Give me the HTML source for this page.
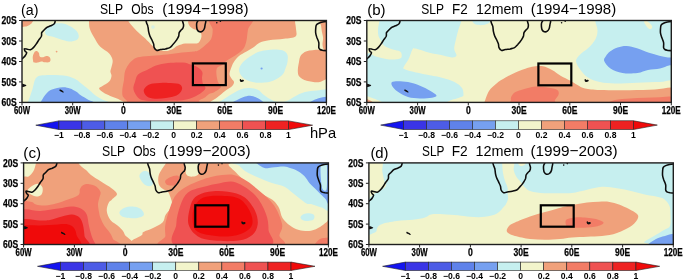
<!DOCTYPE html><html><head><meta charset="utf-8"><style>html,body{margin:0;padding:0;background:#fff;}svg{display:block;filter:blur(0.4px);}text{font-family:"Liberation Sans",sans-serif;}.b{stroke:#000;stroke-width:0.25px;}</style></head><body>
<svg width="685" height="280" viewBox="0 0 685 280">
<defs>
<clipPath id="cpa"><rect x="22.0" y="20.5" width="304.4" height="81.9"/></clipPath>
<clipPath id="cpb"><rect x="366.8" y="20.5" width="304.5" height="81.9"/></clipPath>
<clipPath id="cpc"><rect x="23.6" y="162.9" width="304.8" height="81.6"/></clipPath>
<clipPath id="cpd"><rect x="368.9" y="162.9" width="304.4" height="81.6"/></clipPath>
</defs>
<g clip-path="url(#cpa)">
<rect x="22.0" y="20.5" width="304.4" height="81.9" fill="#f2f4cb"/>
<path fill="#f0a17b" d="M18.0,18.0 C20.5,16.6 30.6,17.3 33.0,18.0 C35.4,18.7 33.1,20.8 32.5,22.0 C31.9,23.2 30.8,24.2 29.5,25.0 C28.2,25.8 26.9,26.4 25.0,26.6 C23.1,26.9 19.2,27.9 18.0,26.5 C16.8,25.1 15.5,19.4 18.0,18.0Z"/>
<path fill="#f0a17b" d="M33.2,61.4 C33.1,60.4 32.5,58.1 32.8,56.5 C33.1,54.9 34.1,52.5 34.9,51.6 C35.6,50.7 36.6,50.9 37.3,51.2 C38.0,51.5 38.6,52.3 39.0,53.2 C39.4,54.1 39.1,55.8 39.8,56.5 C40.5,57.2 42.0,57.4 43.1,57.3 C44.2,57.2 45.3,56.1 46.4,56.1 C47.5,56.1 49.0,56.6 49.7,57.3 C50.4,58.0 50.6,59.4 50.5,60.2 C50.4,61.0 49.8,61.9 48.8,62.3 C47.8,62.6 45.9,62.4 44.7,62.3 C43.5,62.1 42.8,61.3 41.4,61.4 C40.0,61.5 37.8,62.6 36.5,62.7 C35.2,62.9 34.1,62.5 33.6,62.3 C33.1,62.1 33.3,62.4 33.2,61.4Z"/>
<path fill="#f0a17b" d="M89.0,17.0 C107.5,16.3 165.7,17.0 200.0,17.0 C234.3,17.0 278.9,16.2 294.7,17.0 C310.5,17.8 294.8,19.5 295.0,21.5 C295.2,23.5 295.9,26.5 296.0,29.0 C296.1,31.5 297.5,34.9 295.5,36.5 C293.5,38.1 288.4,38.2 284.0,38.8 C279.6,39.4 273.0,39.7 269.0,40.3 C265.0,40.9 262.5,41.5 260.0,42.6 C257.5,43.7 256.2,45.5 254.0,47.0 C251.8,48.5 249.0,50.1 246.5,51.6 C244.0,53.1 241.0,54.4 239.0,56.0 C237.0,57.6 235.8,59.2 234.5,61.0 C233.2,62.8 232.3,64.8 231.5,67.0 C230.7,69.2 229.5,72.1 229.5,74.0 C229.5,75.9 230.8,77.2 231.5,78.5 C232.2,79.8 233.9,80.7 234.0,82.0 C234.1,83.3 233.3,84.8 232.0,86.2 C230.7,87.6 227.8,88.9 226.0,90.3 C224.2,91.7 222.6,93.0 220.9,94.4 C219.2,95.8 217.5,97.3 215.8,98.5 C214.1,99.7 212.5,100.5 210.7,101.6 C208.9,102.7 217.8,104.4 205.0,105.0 C192.2,105.6 147.5,105.5 134.0,105.0 C120.5,104.5 126.8,103.1 124.0,102.0 C121.2,100.9 119.3,99.6 117.0,98.6 C114.7,97.6 112.5,96.9 110.2,95.9 C107.9,94.9 105.2,93.7 103.4,92.5 C101.6,91.3 99.2,89.7 99.1,88.6 C98.9,87.5 100.8,87.3 102.5,86.1 C104.2,84.9 107.8,83.3 109.2,81.6 C110.8,79.9 111.3,77.7 111.5,76.0 C111.7,74.3 110.4,73.0 110.4,71.5 C110.4,70.0 111.1,68.9 111.5,67.0 C111.9,65.1 113.0,62.5 112.6,60.2 C112.2,58.0 111.3,55.8 109.2,53.5 C107.2,51.2 102.8,49.4 100.3,46.8 C97.8,44.1 96.0,40.7 94.3,37.7 C92.5,34.7 90.7,31.6 89.8,28.8 C88.9,26.0 89.1,23.0 89.0,21.0 C88.9,19.0 70.5,17.7 89.0,17.0Z"/>
<path fill="#f0a17b" d="M297.8,70.4 C297.8,68.0 298.5,64.5 299.0,62.0 C299.5,59.5 299.5,57.4 300.8,55.6 C302.1,53.8 303.7,52.2 306.7,51.2 C309.7,50.2 315.4,49.7 318.6,49.7 C321.8,49.7 324.1,50.8 326.0,51.2 C327.9,51.6 329.3,47.4 330.0,52.0 C330.7,56.6 330.7,74.5 330.0,79.0 C329.3,83.5 327.9,78.8 326.0,79.3 C324.1,79.8 321.8,82.0 318.6,82.3 C315.4,82.5 309.9,81.8 306.7,80.8 C303.5,79.8 300.8,78.1 299.3,76.4 C297.8,74.7 297.9,72.8 297.8,70.4Z"/>
<path fill="#f0a17b" d="M319.0,17.0 C320.7,16.2 328.2,11.2 330.0,17.0 C331.8,22.8 330.7,46.3 330.0,52.0 C329.3,57.7 326.8,51.4 325.8,51.0 C324.8,50.6 324.4,50.8 323.8,49.7 C323.2,48.6 322.6,46.4 322.5,44.4 C322.4,42.4 323.2,40.0 323.1,37.8 C323.0,35.6 322.1,33.2 321.8,31.2 C321.5,29.2 321.4,27.4 321.1,25.9 C320.8,24.4 320.2,23.5 319.8,22.0 C319.4,20.5 317.3,17.8 319.0,17.0Z"/>
<path fill="#f2f4cb" d="M128.2,17.0 C118.3,17.6 127.3,18.9 128.2,20.7 C129.1,22.4 131.6,25.4 133.5,27.5 C135.4,29.6 137.6,31.8 139.5,33.5 C141.4,35.2 143.3,36.8 144.7,38.0 C146.1,39.2 146.4,39.7 147.7,41.0 C149.0,42.3 150.9,44.4 152.5,45.8 C154.1,47.2 154.8,48.6 157.0,49.5 C159.2,50.4 163.4,51.0 165.8,51.0 C168.2,51.0 169.7,50.4 171.7,49.5 C173.7,48.6 175.4,46.8 177.6,45.8 C179.8,44.8 182.6,44.0 185.0,43.6 C187.4,43.2 190.1,43.7 192.3,43.6 C194.5,43.5 196.7,43.9 198.2,42.9 C199.7,41.9 200.7,39.4 201.2,37.7 C201.7,36.1 201.5,34.2 201.0,33.0 C200.5,31.8 199.2,30.8 198.0,30.2 C196.8,29.6 195.3,29.9 194.0,29.3 C192.7,28.7 191.0,27.7 190.0,26.5 C189.0,25.3 188.4,23.6 188.0,22.0 C187.6,20.4 197.5,17.8 187.5,17.0 C177.5,16.2 138.1,16.4 128.2,17.0Z"/>
<path fill="#f27c66" d="M211.0,17.0 C204.6,19.1 212.7,25.9 212.7,29.6 C212.7,33.3 212.3,36.6 211.0,39.3 C209.7,42.0 206.7,43.8 204.6,45.7 C202.5,47.6 200.0,49.5 198.2,50.5 C196.4,51.5 196.5,51.2 193.8,51.5 C191.1,51.8 186.4,52.0 182.0,52.5 C177.6,53.0 172.1,54.0 167.2,54.5 C162.3,55.0 157.0,55.4 152.5,55.8 C148.0,56.2 143.1,56.5 140.0,57.0 C136.9,57.5 135.9,57.8 134.0,59.1 C132.1,60.4 129.9,62.7 128.4,64.8 C126.9,66.8 125.8,68.9 125.0,71.5 C124.2,74.1 124.3,77.8 123.9,80.5 C123.5,83.2 122.8,85.6 122.5,88.0 C122.2,90.4 122.1,93.2 122.4,95.0 C122.7,96.8 123.7,97.5 124.5,98.6 C125.3,99.6 126.5,100.2 127.2,101.3 C128.0,102.4 117.2,104.4 129.0,105.0 C140.8,105.6 186.4,105.7 198.0,105.0 C209.6,104.3 197.8,102.0 198.8,100.8 C199.8,99.6 202.3,99.2 204.0,98.1 C205.7,97.0 207.4,95.0 209.0,94.0 C210.6,93.0 211.7,93.5 213.7,92.4 C215.7,91.3 220.2,89.0 220.9,87.3 C221.6,85.6 218.7,84.0 218.0,82.0 C217.3,80.0 216.7,77.3 216.5,75.0 C216.3,72.7 216.0,69.7 217.0,68.0 C218.0,66.3 220.6,66.3 222.3,65.0 C224.0,63.7 225.0,61.8 227.2,60.2 C229.3,58.6 232.5,57.3 235.2,55.4 C237.9,53.5 241.3,51.3 243.2,48.9 C245.1,46.5 245.6,44.1 246.4,40.9 C247.2,37.7 247.2,33.6 248.0,29.6 C248.8,25.6 257.5,19.1 251.3,17.0 C245.1,14.9 217.4,14.9 211.0,17.0Z"/>
<path fill="#ef5252" d="M133.5,89.5 C132.9,86.8 134.2,84.5 135.0,82.0 C135.8,79.5 136.0,76.5 138.0,74.5 C140.0,72.5 144.0,71.5 147.0,70.0 C150.0,68.5 152.5,66.7 156.0,65.5 C159.5,64.3 163.5,63.5 168.0,63.0 C172.5,62.5 179.2,62.2 183.0,62.5 C186.8,62.8 188.1,63.7 190.6,64.5 C193.1,65.3 196.1,66.2 198.0,67.5 C199.9,68.8 201.6,70.2 202.3,72.0 C203.0,73.8 201.9,76.0 202.0,78.0 C202.1,80.0 202.4,82.3 203.0,84.0 C203.6,85.7 205.9,86.7 205.5,88.3 C205.1,89.9 203.0,91.7 200.4,93.4 C197.8,95.1 193.6,97.3 190.2,98.5 C186.8,99.7 182.9,100.2 180.0,100.5 C177.1,100.8 175.9,100.5 172.6,100.6 C169.3,100.7 164.4,101.0 160.0,101.0 C155.6,101.0 149.9,101.3 146.3,100.8 C142.7,100.3 140.5,100.0 138.4,98.1 C136.3,96.2 134.1,92.2 133.5,89.5Z"/>
<path fill="#ee2222" d="M143.7,90.5 C143.8,88.7 145.9,86.7 147.5,85.5 C149.1,84.3 150.9,83.9 153.0,83.5 C155.1,83.1 157.5,83.1 160.0,83.0 C162.5,82.9 164.9,82.8 168.0,82.9 C171.1,83.0 176.2,83.1 178.5,83.8 C180.8,84.5 181.6,86.0 182.0,87.3 C182.4,88.6 181.9,90.1 181.0,91.5 C180.1,92.9 179.0,94.4 176.5,95.5 C174.0,96.6 169.6,97.5 166.0,98.0 C162.4,98.5 158.2,99.0 155.0,98.7 C151.8,98.5 148.9,97.9 147.0,96.5 C145.1,95.1 143.6,92.3 143.7,90.5Z"/>
<path fill="#c6efef" d="M45.0,32.5 C44.9,31.4 45.7,29.7 46.5,28.5 C47.3,27.3 48.7,26.3 50.0,25.5 C51.3,24.7 52.2,23.8 54.4,23.5 C56.6,23.2 60.6,23.0 63.3,23.5 C66.0,24.0 68.5,25.3 70.7,26.6 C72.9,27.9 75.2,29.5 76.6,31.1 C77.9,32.7 78.8,34.7 78.8,36.2 C78.8,37.7 78.2,39.0 76.6,39.9 C75.0,40.8 71.9,41.5 69.2,41.4 C66.5,41.3 63.2,40.0 60.3,39.2 C57.4,38.4 54.2,37.2 52.0,36.5 C49.8,35.8 48.2,35.9 47.0,35.2 C45.8,34.5 45.1,33.6 45.0,32.5Z"/>
<path fill="#c6efef" d="M26.0,105.0 C12.3,104.4 27.2,103.2 28.0,101.5 C28.8,99.8 29.8,97.1 30.5,95.0 C31.2,92.9 31.8,91.3 32.5,89.0 C33.2,86.7 33.8,83.0 34.5,81.0 C35.2,79.0 35.9,77.9 37.0,77.0 C38.1,76.1 38.5,75.8 41.0,75.5 C43.5,75.2 47.7,74.9 52.0,75.0 C56.3,75.1 63.0,75.2 67.0,76.0 C71.0,76.8 73.8,78.4 76.0,79.5 C78.2,80.6 78.6,81.5 80.0,82.6 C81.4,83.7 83.0,85.0 84.6,86.3 C86.1,87.5 87.8,88.8 89.3,90.1 C90.8,91.4 92.4,93.0 93.9,94.2 C95.5,95.4 96.9,96.5 98.6,97.5 C100.3,98.5 102.5,99.6 104.1,100.3 C105.7,101.0 107.0,101.0 108.0,101.8 C109.0,102.6 123.7,104.5 110.0,105.0 C96.3,105.5 39.7,105.6 26.0,105.0Z"/>
<path fill="#c6efef" d="M239.0,70.0 C238.9,67.9 240.3,65.8 241.5,64.0 C242.7,62.2 244.4,60.8 246.0,59.5 C247.6,58.2 249.0,57.2 251.0,56.0 C253.0,54.8 255.5,53.0 258.0,52.0 C260.5,51.0 262.9,50.6 266.0,50.2 C269.1,49.8 273.6,49.5 276.6,49.6 C279.6,49.7 282.2,50.1 284.0,51.0 C285.8,51.9 286.9,53.2 287.5,55.0 C288.1,56.8 287.8,59.8 287.5,62.0 C287.2,64.2 286.4,65.9 285.6,68.0 C284.8,70.1 284.6,72.4 282.6,74.5 C280.6,76.6 277.1,79.1 273.6,80.5 C270.1,81.9 265.6,82.7 261.6,82.8 C257.6,82.9 252.9,82.3 249.6,81.3 C246.3,80.2 243.8,78.4 242.0,76.5 C240.2,74.6 239.1,72.1 239.0,70.0Z"/>
<path fill="#c6efef" d="M215.0,105.0 C196.2,104.6 216.1,103.3 217.0,102.7 C217.9,102.1 218.8,102.1 220.4,101.2 C222.0,100.3 224.4,98.7 226.4,97.5 C228.4,96.3 230.5,94.9 232.4,93.8 C234.3,92.7 235.7,91.7 237.6,90.8 C239.5,89.9 241.5,89.1 243.6,88.6 C245.7,88.1 247.6,87.8 250.0,88.0 C252.4,88.2 255.6,88.6 257.9,89.8 C260.2,91.0 261.9,93.5 263.9,95.0 C265.9,96.5 268.2,98.0 270.0,99.0 C271.8,100.0 272.9,100.7 274.6,101.2 C276.3,101.7 278.0,101.8 280.0,101.8 C282.0,101.8 284.3,101.8 286.7,101.0 C289.1,100.2 291.3,98.2 294.3,96.7 C297.3,95.2 301.1,93.1 304.9,92.1 C308.7,91.1 312.8,90.9 317.0,90.6 C321.2,90.3 327.8,88.0 330.0,90.4 C332.2,92.8 349.2,102.6 330.0,105.0 C310.8,107.4 233.8,105.4 215.0,105.0Z"/>
<path fill="#76a0f0" d="M38.0,105.0 C28.8,104.7 38.7,104.8 40.0,103.0 C41.3,101.2 44.0,96.2 46.0,94.0 C48.0,91.8 49.2,90.6 52.0,89.5 C54.8,88.4 59.5,87.5 62.5,87.3 C65.5,87.1 67.8,87.8 70.0,88.5 C72.2,89.2 74.3,90.5 76.0,91.5 C77.7,92.5 78.6,93.7 80.0,94.7 C81.4,95.7 83.0,96.6 84.6,97.5 C86.1,98.4 87.9,99.6 89.3,100.3 C90.7,101.0 92.0,100.9 93.0,101.7 C94.0,102.5 104.2,104.5 95.0,105.0 C85.8,105.5 47.2,105.3 38.0,105.0Z"/>
<path fill="#76a0f0" d="M230.0,105.0 C224.7,104.5 231.1,103.2 232.4,102.3 C233.7,101.4 235.7,100.6 237.6,99.7 C239.5,98.8 241.5,97.8 243.6,97.1 C245.7,96.4 247.9,95.7 250.0,95.8 C252.1,95.9 254.2,96.6 256.3,97.5 C258.4,98.4 261.1,100.0 262.4,101.2 C263.7,102.5 269.4,104.4 264.0,105.0 C258.6,105.6 235.3,105.5 230.0,105.0Z"/>
<path fill="#76a0f0" d="M309.0,105.0 C305.8,104.4 309.4,102.6 311.0,101.5 C312.6,100.4 316.1,99.0 318.6,98.2 C321.1,97.4 324.3,97.0 326.2,96.7 C328.1,96.4 329.4,95.1 330.0,96.5 C330.6,97.9 333.5,103.6 330.0,105.0 C326.5,106.4 312.2,105.6 309.0,105.0Z"/>
<circle cx="56.6" cy="51.6" r="0.9" fill="#f0a17b"/>
<circle cx="261.6" cy="68.5" r="1.1" fill="#76a0f0"/>
<circle cx="153" cy="27.1" r="1.8" fill="#d6f0e4"/>
<g fill="none" stroke="#0d0d0d" stroke-width="1.55" stroke-linejoin="round" stroke-linecap="round">
<path d="M55.5,19.5 C55.3,20.2 55.2,22.6 54.4,23.6 C53.6,24.7 52.0,25.2 50.7,25.8 C49.5,26.4 48.0,26.6 46.9,27.3 C45.8,28.1 44.8,29.4 43.9,30.3 C43.0,31.2 42.1,31.6 41.7,32.6 C41.3,33.6 41.9,35.0 41.4,36.3 C40.9,37.5 39.5,38.9 38.7,40.1 C37.9,41.4 37.3,42.5 36.4,43.8 C35.5,45.0 34.4,46.6 33.4,47.6 C32.4,48.6 31.5,49.5 30.4,49.8 C29.3,50.0 27.7,49.3 26.7,49.1 C25.7,48.9 24.6,48.4 24.4,48.8 C24.1,49.2 24.8,50.6 25.2,51.3 C25.6,52.0 26.7,52.0 26.7,52.8 C26.7,53.5 25.8,54.9 25.2,55.8 C24.6,56.7 23.7,57.4 22.9,58.1 C22.1,58.8 20.9,59.7 20.5,60.0"/>
<path d="M145.7,19.5 C145.9,20.1 146.3,22.1 146.7,23.2 C147.1,24.3 147.6,25.0 147.9,26.4 C148.3,27.7 148.3,29.8 148.6,31.4 C148.9,32.9 149.3,34.3 149.8,35.7 C150.3,37.1 151.1,38.1 151.7,39.5 C152.3,40.9 153.2,42.5 153.6,43.9 C154.0,45.2 153.7,46.5 154.2,47.6 C154.7,48.7 155.7,50.0 156.7,50.4 C157.7,50.7 159.0,49.8 160.4,49.5 C161.9,49.2 163.9,49.2 165.4,48.9 C167.0,48.5 168.6,48.3 169.8,47.6 C171.1,46.9 171.9,45.6 172.9,44.5 C174.0,43.4 175.2,42.1 176.1,40.7 C177.0,39.3 178.1,37.7 178.6,36.4 C179.1,35.0 178.8,33.6 179.2,32.6 C179.6,31.6 180.5,30.8 181.1,30.1 C181.7,29.4 182.5,29.0 182.9,28.2 C183.4,27.4 183.6,26.0 183.6,25.1 C183.6,24.2 183.2,23.5 182.9,22.6 C182.7,21.7 182.4,20.0 182.3,19.5"/>
<path d="M197.8,19.5 C197.8,19.7 198.0,20.2 197.8,20.9 C197.6,21.5 196.9,22.4 196.7,23.4 C196.5,24.4 196.6,26.0 196.7,27.1 C196.8,28.2 196.9,29.2 197.4,30.0 C197.9,30.8 198.8,31.6 199.6,31.8 C200.4,32.0 201.7,31.7 202.5,31.1 C203.3,30.6 204.0,29.5 204.4,28.5 C204.8,27.5 204.9,26.0 205.1,24.9 C205.3,23.8 205.7,22.5 205.8,21.6 C205.9,20.7 205.6,19.9 205.5,19.5"/>
<path d="M328.0,21.4 C327.1,21.5 324.1,21.7 322.6,22.0 C321.1,22.3 319.9,22.7 318.8,23.2 C317.8,23.7 316.8,24.2 316.3,25.1 C315.8,26.0 315.8,27.5 315.7,28.9 C315.6,30.2 315.5,31.7 315.7,33.2 C315.9,34.7 316.4,36.0 316.9,37.6 C317.5,39.2 318.5,40.9 318.8,42.6 C319.1,44.3 318.6,46.5 318.8,47.6 C319.0,48.8 319.4,49.0 320.1,49.5 C320.8,50.0 321.9,50.1 323.2,50.4 C324.5,50.6 327.2,50.6 328.0,50.7"/>
</g>
<g fill="#111">
<circle cx="216.8" cy="22.7" r="0.8"/>
<circle cx="220.4" cy="21.2" r="0.8"/>
<path d="M239.7,79.7 C239.7,79.2 240.3,78.9 240.6,78.9 C240.9,78.9 241.1,79.8 241.5,79.9 C241.9,80.0 242.8,79.6 243.2,79.7 C243.6,79.8 244.1,80.4 244.0,80.7 C243.9,81.0 243.4,81.6 242.8,81.8 C242.2,82.0 241.0,82.0 240.5,81.7 C240.0,81.4 239.7,80.2 239.7,79.7Z"/>
<path d="M59.5,89.8 C59.6,89.6 60.0,89.3 60.5,89.5 C61.0,89.7 62.0,90.3 62.5,90.7 C63.0,91.1 63.7,91.7 63.8,92.0 C63.9,92.3 63.4,92.6 63.0,92.6 C62.6,92.5 61.9,92.0 61.3,91.7 C60.7,91.4 59.9,91.1 59.6,90.8 C59.3,90.5 59.4,90.0 59.5,89.8Z"/>
<path d="M21.0,83.7 C21.4,83.2 22.7,83.7 23.5,83.9 C24.3,84.1 25.4,84.5 25.8,84.8 C26.2,85.1 26.5,85.4 26.2,85.7 C25.9,86.0 24.9,86.5 24.0,86.7 C23.1,86.9 21.5,87.5 21.0,87.0 C20.5,86.5 20.6,84.2 21.0,83.7Z"/>
</g>
<rect x="192.9" y="63.4" width="32.9" height="21.7" fill="none" stroke="#000" stroke-width="2.2"/>
</g>
<rect x="22.0" y="20.5" width="304.4" height="81.9" fill="none" stroke="#1e1e1e" stroke-width="1.4"/>
<path d="M19.0,20.5H22.0M19.0,41.0H22.0M19.0,61.5H22.0M19.0,81.9H22.0M19.0,102.4H22.0M22.0,102.4V105.4M72.7,102.4V105.4M123.5,102.4V105.4M174.2,102.4V105.4M224.9,102.4V105.4M275.6,102.4V105.4M326.4,102.4V105.4" stroke="#222" stroke-width="1" fill="none"/>
<text x="1.4" y="24.1" class="b" font-size="10" font-weight="bold" textLength="15.2" lengthAdjust="spacingAndGlyphs">20S</text>
<text x="1.4" y="44.6" class="b" font-size="10" font-weight="bold" textLength="15.2" lengthAdjust="spacingAndGlyphs">30S</text>
<text x="1.4" y="65.0" class="b" font-size="10" font-weight="bold" textLength="15.2" lengthAdjust="spacingAndGlyphs">40S</text>
<text x="1.4" y="85.5" class="b" font-size="10" font-weight="bold" textLength="15.2" lengthAdjust="spacingAndGlyphs">50S</text>
<text x="1.4" y="106.0" class="b" font-size="10" font-weight="bold" textLength="15.2" lengthAdjust="spacingAndGlyphs">60S</text>
<text x="14.0" y="113.8" class="b" font-size="10.4" font-weight="bold" textLength="16" lengthAdjust="spacingAndGlyphs">60W</text>
<text x="64.7" y="113.8" class="b" font-size="10.4" font-weight="bold" textLength="16" lengthAdjust="spacingAndGlyphs">30W</text>
<text x="121.0" y="113.8" class="b" font-size="10.4" font-weight="bold" textLength="4.8" lengthAdjust="spacingAndGlyphs">0</text>
<text x="166.5" y="113.8" class="b" font-size="10.4" font-weight="bold" textLength="15.3" lengthAdjust="spacingAndGlyphs">30E</text>
<text x="217.3" y="113.8" class="b" font-size="10.4" font-weight="bold" textLength="15.2" lengthAdjust="spacingAndGlyphs">60E</text>
<text x="268.0" y="113.8" class="b" font-size="10.4" font-weight="bold" textLength="15.2" lengthAdjust="spacingAndGlyphs">90E</text>
<text x="316.9" y="113.8" class="b" font-size="10.4" font-weight="bold" textLength="19" lengthAdjust="spacingAndGlyphs">120E</text>
<g clip-path="url(#cpb)">
<rect x="366.8" y="20.5" width="304.5" height="81.9" fill="#c6efef"/>
<path fill="#f2f4cb" d="M364.0,18.0 C366.6,12.3 376.8,17.4 379.4,18.0 C382.0,18.6 379.6,19.7 379.4,21.5 C379.2,23.3 378.1,26.6 378.0,29.0 C377.9,31.4 378.0,34.1 378.5,36.0 C379.0,37.9 380.1,38.9 381.0,40.5 C381.9,42.1 381.9,44.0 383.9,45.5 C385.9,47.0 390.1,48.6 392.8,49.6 C395.5,50.6 398.5,50.5 400.0,51.4 C401.5,52.3 401.7,53.8 401.7,55.0 C401.7,56.2 402.1,57.9 400.0,58.6 C397.9,59.4 393.1,59.8 389.2,59.5 C385.3,59.2 380.0,57.8 376.7,56.8 C373.4,55.8 371.7,54.0 369.6,53.2 C367.5,52.4 364.9,57.9 364.0,52.0 C363.1,46.1 361.4,23.7 364.0,18.0Z"/>
<path fill="#f2f4cb" d="M403.5,67.5 C404.1,65.7 407.4,61.6 408.9,58.6 C410.4,55.6 411.3,51.3 412.4,49.6 C413.5,47.9 412.5,48.0 415.3,48.5 C418.1,49.0 425.1,51.6 429.4,52.7 C433.7,53.8 437.5,54.2 441.2,55.0 C444.9,55.8 449.2,57.3 451.8,57.4 C454.4,57.5 456.1,57.0 456.5,55.6 C456.9,54.2 454.3,51.6 454.2,49.0 C454.1,46.4 455.1,43.2 455.8,40.0 C456.5,36.8 457.4,33.1 458.3,30.0 C459.2,26.9 460.7,23.7 461.3,21.5 C461.9,19.3 439.7,17.8 462.0,17.0 C484.3,16.2 573.1,16.2 595.3,17.0 C617.5,17.8 594.9,19.3 595.3,21.5 C595.7,23.7 597.5,27.4 597.5,30.4 C597.5,33.4 596.9,36.4 595.3,39.4 C593.7,42.4 590.4,45.8 587.9,48.3 C585.4,50.8 582.4,52.1 580.4,54.2 C578.4,56.3 576.0,58.4 576.0,61.0 C576.0,63.6 578.5,67.2 580.5,70.0 C582.5,72.8 584.8,75.5 588.0,77.5 C591.2,79.5 595.5,81.0 600.0,82.0 C604.5,83.0 608.8,83.4 615.0,83.5 C621.2,83.6 630.0,83.0 637.5,82.7 C645.0,82.5 653.8,82.1 660.0,82.0 C666.2,81.9 672.5,78.2 675.0,82.0 C677.5,85.8 710.4,101.2 675.0,105.0 C639.6,108.8 497.8,106.6 462.5,105.0 C427.2,103.4 463.6,98.3 463.5,95.5 C463.4,92.7 463.5,90.2 462.0,88.0 C460.5,85.8 458.0,83.8 454.5,82.0 C451.0,80.2 445.8,78.8 441.0,77.5 C436.2,76.2 431.0,75.5 426.0,74.5 C421.0,73.5 414.4,72.0 411.0,71.2 C407.6,70.4 406.8,70.1 405.5,69.5 C404.2,68.9 402.9,69.3 403.5,67.5Z"/>
<path fill="#f2f4cb" d="M364.0,94.0 C364.3,92.4 364.4,94.8 366.0,95.5 C367.6,96.2 371.2,97.6 373.5,98.5 C375.8,99.4 377.9,99.9 380.0,101.0 C382.1,102.1 388.7,104.3 386.0,105.0 C383.3,105.7 367.7,106.8 364.0,105.0 C360.3,103.2 363.7,95.6 364.0,94.0Z"/>
<path fill="#c6efef" d="M472.0,17.0 C475.1,16.2 488.1,16.1 491.0,17.0 C493.9,17.9 490.8,21.2 489.5,22.5 C488.2,23.8 485.2,24.7 483.0,25.0 C480.8,25.3 477.8,25.1 476.0,24.5 C474.2,23.9 473.2,22.8 472.5,21.5 C471.8,20.2 468.9,17.8 472.0,17.0Z"/>
<path fill="#f0a17b" d="M364.0,98.0 C364.7,97.1 366.7,98.9 368.0,99.5 C369.3,100.1 371.0,100.6 372.0,101.5 C373.0,102.4 375.3,104.4 374.0,105.0 C372.7,105.6 365.7,106.2 364.0,105.0 C362.3,103.8 363.3,98.9 364.0,98.0Z"/>
<path fill="#f0a17b" d="M483.0,105.0 C451.2,104.5 483.5,104.3 484.5,102.0 C485.5,99.7 487.0,94.1 489.0,91.0 C491.0,87.9 493.8,85.8 496.5,83.5 C499.2,81.2 502.2,79.4 505.5,77.5 C508.8,75.6 512.2,73.8 516.0,72.2 C519.8,70.6 524.8,68.7 528.0,67.7 C531.2,66.7 533.0,66.5 535.5,66.2 C538.0,66.0 540.2,65.6 543.0,66.2 C545.8,66.8 549.0,68.4 552.0,70.0 C555.0,71.6 558.0,74.2 561.0,76.0 C564.0,77.8 567.2,79.0 570.0,80.5 C572.8,82.0 575.0,83.7 577.5,85.0 C580.0,86.3 581.2,87.7 585.0,88.5 C588.8,89.3 592.5,89.7 600.0,90.0 C607.5,90.3 620.8,90.3 630.0,90.2 C639.2,90.1 647.5,89.8 655.0,89.5 C662.5,89.2 671.7,85.9 675.0,88.5 C678.3,91.1 707.0,102.2 675.0,105.0 C643.0,107.8 514.8,105.5 483.0,105.0Z"/>
<path fill="#f27c66" d="M511.5,96.2 C512.3,94.8 513.2,93.1 516.0,91.7 C518.8,90.3 524.8,88.9 528.0,88.0 C531.2,87.1 532.5,86.6 535.5,86.5 C538.5,86.4 542.5,86.7 546.0,87.2 C549.5,87.7 554.4,88.4 556.5,89.5 C558.6,90.6 559.0,92.2 558.7,94.0 C558.5,95.8 556.1,98.2 555.0,100.0 C553.9,101.8 559.0,104.2 552.0,105.0 C545.0,105.8 519.8,105.8 513.0,105.0 C506.2,104.2 511.2,101.5 511.0,100.0 C510.8,98.5 510.7,97.6 511.5,96.2Z"/>
<path fill="#f27c66" d="M605.0,105.0 C593.8,104.7 605.8,103.8 607.5,103.0 C609.2,102.2 611.2,100.8 615.0,100.0 C618.8,99.2 625.0,98.9 630.0,98.5 C635.0,98.1 640.0,97.9 645.0,97.7 C650.0,97.5 655.0,97.3 660.0,97.2 C665.0,97.1 672.5,95.7 675.0,97.0 C677.5,98.3 686.7,103.7 675.0,105.0 C663.3,106.3 616.2,105.3 605.0,105.0Z"/>
<path fill="#76a0f0" d="M391.5,82.7 C392.0,81.7 393.2,81.3 396.0,81.2 C398.8,81.1 404.0,81.2 408.0,82.0 C412.0,82.8 416.2,84.2 420.0,85.7 C423.8,87.2 427.8,89.4 430.5,91.0 C433.2,92.6 436.2,94.4 436.5,95.5 C436.8,96.6 434.8,97.2 432.0,97.7 C429.2,98.2 424.0,98.6 420.0,98.5 C416.0,98.4 411.5,98.0 408.0,97.0 C404.5,96.0 401.5,94.1 399.0,92.5 C396.5,90.9 394.2,88.8 393.0,87.2 C391.8,85.6 391.0,83.7 391.5,82.7Z"/>
<path fill="#76a0f0" d="M604.2,61.0 C603.5,58.9 605.0,57.6 606.0,56.0 C607.0,54.4 608.1,52.9 610.0,51.5 C611.9,50.1 614.8,48.4 617.6,47.5 C620.4,46.6 623.4,45.9 626.6,46.0 C629.8,46.1 633.3,47.2 637.0,48.3 C640.7,49.4 645.3,51.6 649.0,52.8 C652.7,54.0 656.1,54.9 659.3,55.7 C662.5,56.5 665.4,57.1 668.0,57.5 C670.6,57.9 673.8,56.8 675.0,58.0 C676.2,59.2 676.0,63.8 675.0,65.0 C674.0,66.2 671.5,64.9 669.0,65.5 C666.5,66.1 663.5,67.8 660.0,68.5 C656.5,69.2 651.8,69.2 648.0,70.0 C644.2,70.8 641.8,72.5 637.5,73.0 C633.2,73.5 627.0,73.8 622.5,73.0 C618.0,72.2 613.5,70.5 610.5,68.5 C607.5,66.5 605.0,63.1 604.2,61.0Z"/>
<path fill="#f2f4cb" d="M644.0,22.0 C643.8,20.8 645.7,20.3 647.0,21.0 C648.3,21.7 651.3,24.7 652.0,26.0 C652.7,27.3 651.7,28.7 651.0,29.0 C650.3,29.3 649.2,29.2 648.0,28.0 C646.8,26.8 644.2,23.2 644.0,22.0Z"/>
<g fill="none" stroke="#0d0d0d" stroke-width="1.55" stroke-linejoin="round" stroke-linecap="round">
<path d="M400.3,19.5 C400.1,20.2 400.0,22.6 399.2,23.6 C398.4,24.7 396.8,25.2 395.5,25.8 C394.2,26.4 392.8,26.6 391.7,27.3 C390.6,28.1 389.6,29.4 388.7,30.3 C387.8,31.2 386.9,31.6 386.5,32.6 C386.1,33.6 386.7,35.0 386.2,36.3 C385.7,37.5 384.3,38.9 383.5,40.1 C382.7,41.4 382.1,42.5 381.2,43.8 C380.3,45.0 379.2,46.6 378.2,47.6 C377.2,48.6 376.3,49.5 375.2,49.8 C374.1,50.0 372.5,49.3 371.5,49.1 C370.5,48.9 369.4,48.4 369.2,48.8 C368.9,49.2 369.6,50.6 370.0,51.3 C370.4,52.0 371.5,52.0 371.5,52.8 C371.5,53.5 370.6,54.9 370.0,55.8 C369.4,56.7 368.5,57.4 367.7,58.1 C366.9,58.8 365.7,59.7 365.3,60.0"/>
<path d="M490.5,19.5 C490.7,20.1 491.1,22.1 491.5,23.2 C491.9,24.3 492.4,25.0 492.8,26.4 C493.1,27.7 493.1,29.8 493.4,31.4 C493.7,32.9 494.1,34.3 494.6,35.7 C495.1,37.1 495.9,38.1 496.5,39.5 C497.1,40.9 498.0,42.5 498.4,43.9 C498.8,45.2 498.5,46.5 499.0,47.6 C499.5,48.7 500.5,50.0 501.5,50.4 C502.5,50.7 503.8,49.8 505.2,49.5 C506.7,49.2 508.7,49.2 510.2,48.9 C511.8,48.5 513.4,48.3 514.6,47.6 C515.9,46.9 516.7,45.6 517.8,44.5 C518.8,43.4 520.0,42.1 520.9,40.7 C521.8,39.3 522.9,37.7 523.4,36.4 C523.9,35.0 523.6,33.6 524.0,32.6 C524.4,31.6 525.3,30.8 525.9,30.1 C526.5,29.4 527.3,29.0 527.8,28.2 C528.2,27.4 528.4,26.0 528.4,25.1 C528.4,24.2 528.0,23.5 527.8,22.6 C527.5,21.7 527.2,20.0 527.1,19.5"/>
<path d="M542.6,19.5 C542.6,19.7 542.8,20.2 542.6,20.9 C542.4,21.5 541.7,22.4 541.5,23.4 C541.3,24.4 541.4,26.0 541.5,27.1 C541.6,28.2 541.7,29.2 542.2,30.0 C542.7,30.8 543.5,31.6 544.4,31.8 C545.2,32.0 546.5,31.7 547.3,31.1 C548.1,30.6 548.8,29.5 549.2,28.5 C549.6,27.5 549.7,26.0 549.9,24.9 C550.1,23.8 550.5,22.5 550.6,21.6 C550.7,20.7 550.3,19.9 550.3,19.5"/>
<path d="M672.8,21.4 C671.9,21.5 668.9,21.7 667.4,22.0 C665.9,22.3 664.7,22.7 663.6,23.2 C662.5,23.7 661.6,24.2 661.1,25.1 C660.6,26.0 660.6,27.5 660.5,28.9 C660.4,30.2 660.3,31.7 660.5,33.2 C660.7,34.7 661.2,36.0 661.8,37.6 C662.3,39.2 663.3,40.9 663.6,42.6 C663.9,44.3 663.4,46.5 663.6,47.6 C663.8,48.8 664.2,49.0 664.9,49.5 C665.6,50.0 666.7,50.1 668.0,50.4 C669.3,50.6 672.0,50.6 672.8,50.7"/>
</g>
<g fill="#111">
<circle cx="561.6" cy="22.7" r="0.8"/>
<circle cx="565.2" cy="21.2" r="0.8"/>
<path d="M584.5,79.7 C584.5,79.2 585.1,78.9 585.4,78.9 C585.7,78.9 585.9,79.8 586.3,79.9 C586.7,80.0 587.6,79.6 588.0,79.7 C588.4,79.8 588.9,80.4 588.8,80.7 C588.7,81.0 588.2,81.6 587.6,81.8 C587.0,82.0 585.8,82.0 585.3,81.7 C584.8,81.4 584.5,80.2 584.5,79.7Z"/>
<path d="M404.3,89.8 C404.4,89.6 404.8,89.3 405.3,89.5 C405.8,89.7 406.8,90.3 407.3,90.7 C407.9,91.1 408.5,91.7 408.6,92.0 C408.7,92.3 408.2,92.6 407.8,92.6 C407.4,92.5 406.7,92.0 406.1,91.7 C405.5,91.4 404.7,91.1 404.4,90.8 C404.1,90.5 404.2,90.0 404.3,89.8Z"/>
<path d="M365.8,83.7 C366.2,83.2 367.5,83.7 368.3,83.9 C369.1,84.1 370.2,84.5 370.6,84.8 C371.1,85.1 371.3,85.4 371.0,85.7 C370.7,86.0 369.7,86.5 368.8,86.7 C367.9,86.9 366.3,87.5 365.8,87.0 C365.3,86.5 365.4,84.2 365.8,83.7Z"/>
</g>
<rect x="538.4" y="63.5" width="32.9" height="21.8" fill="none" stroke="#000" stroke-width="2.2"/>
</g>
<rect x="366.8" y="20.5" width="304.5" height="81.9" fill="none" stroke="#1e1e1e" stroke-width="1.4"/>
<path d="M363.8,20.5H366.8M363.8,41.0H366.8M363.8,61.5H366.8M363.8,81.9H366.8M363.8,102.4H366.8M366.8,102.4V105.4M417.6,102.4V105.4M468.3,102.4V105.4M519.0,102.4V105.4M569.8,102.4V105.4M620.5,102.4V105.4M671.3,102.4V105.4" stroke="#222" stroke-width="1" fill="none"/>
<text x="346.2" y="24.1" class="b" font-size="10" font-weight="bold" textLength="15.2" lengthAdjust="spacingAndGlyphs">20S</text>
<text x="346.2" y="44.6" class="b" font-size="10" font-weight="bold" textLength="15.2" lengthAdjust="spacingAndGlyphs">30S</text>
<text x="346.2" y="65.0" class="b" font-size="10" font-weight="bold" textLength="15.2" lengthAdjust="spacingAndGlyphs">40S</text>
<text x="346.2" y="85.5" class="b" font-size="10" font-weight="bold" textLength="15.2" lengthAdjust="spacingAndGlyphs">50S</text>
<text x="346.2" y="106.0" class="b" font-size="10" font-weight="bold" textLength="15.2" lengthAdjust="spacingAndGlyphs">60S</text>
<text x="358.8" y="113.8" class="b" font-size="10.4" font-weight="bold" textLength="16" lengthAdjust="spacingAndGlyphs">60W</text>
<text x="409.6" y="113.8" class="b" font-size="10.4" font-weight="bold" textLength="16" lengthAdjust="spacingAndGlyphs">30W</text>
<text x="465.9" y="113.8" class="b" font-size="10.4" font-weight="bold" textLength="4.8" lengthAdjust="spacingAndGlyphs">0</text>
<text x="511.4" y="113.8" class="b" font-size="10.4" font-weight="bold" textLength="15.3" lengthAdjust="spacingAndGlyphs">30E</text>
<text x="562.2" y="113.8" class="b" font-size="10.4" font-weight="bold" textLength="15.2" lengthAdjust="spacingAndGlyphs">60E</text>
<text x="612.9" y="113.8" class="b" font-size="10.4" font-weight="bold" textLength="15.2" lengthAdjust="spacingAndGlyphs">90E</text>
<text x="661.8" y="113.8" class="b" font-size="10.4" font-weight="bold" textLength="19" lengthAdjust="spacingAndGlyphs">120E</text>
<g clip-path="url(#cpc)">
<rect x="23.6" y="162.9" width="304.8" height="81.6" fill="#f2f4cb"/>
<path fill="#f0a17b" d="M20.0,160.0 C29.7,145.5 68.2,159.4 78.0,160.0 C87.8,160.6 78.1,162.3 78.8,163.5 C79.5,164.7 80.8,165.9 82.0,167.0 C83.2,168.1 84.5,168.7 86.0,170.0 C87.5,171.3 88.5,173.1 91.0,175.0 C93.5,176.9 97.6,179.3 101.0,181.5 C104.4,183.7 108.8,186.1 111.5,188.2 C114.2,190.3 116.9,192.1 117.0,194.0 C117.1,195.9 113.4,198.0 112.0,199.5 C110.6,201.0 109.5,201.1 108.6,203.0 C107.7,204.9 106.5,208.2 106.8,211.0 C107.1,213.8 108.3,217.3 110.4,220.0 C112.5,222.7 116.9,224.6 119.3,227.0 C121.7,229.4 123.6,231.0 124.6,234.3 C125.5,237.6 142.4,244.9 125.0,247.0 C107.6,249.1 37.5,261.5 20.0,247.0 C2.5,232.5 10.3,174.5 20.0,160.0Z"/>
<path fill="#f0a17b" d="M166.5,160.0 C176.9,159.8 218.7,159.2 229.0,160.0 C239.3,160.8 227.6,163.2 228.5,165.0 C229.4,166.8 232.2,168.8 234.5,171.0 C236.8,173.2 239.2,176.0 242.0,178.5 C244.8,181.0 247.8,183.5 251.0,186.0 C254.2,188.5 258.0,191.2 261.5,193.5 C265.0,195.8 269.5,197.8 272.0,199.5 C274.5,201.2 275.2,202.4 276.5,204.0 C277.8,205.6 278.5,206.7 279.5,209.0 C280.5,211.3 280.8,215.2 282.5,218.0 C284.2,220.8 287.2,223.5 290.0,225.5 C292.8,227.5 295.5,229.1 299.0,230.0 C302.5,230.9 307.5,231.2 311.0,230.7 C314.5,230.2 317.5,228.4 320.0,227.0 C322.5,225.6 324.2,223.7 326.0,222.5 C327.8,221.3 330.2,215.9 331.0,220.0 C331.8,224.1 362.1,242.5 331.0,247.0 C299.9,251.5 175.7,249.1 144.3,247.0 C112.9,244.9 142.5,236.9 142.5,234.3 C142.5,231.7 142.9,232.5 144.5,231.5 C146.1,230.5 149.0,230.0 152.0,228.5 C155.0,227.0 160.2,224.8 162.5,222.5 C164.8,220.2 164.2,217.2 165.5,215.0 C166.8,212.8 168.9,211.0 170.0,209.0 C171.1,207.0 172.0,205.2 172.0,203.0 C172.0,200.8 170.7,197.9 170.0,196.0 C169.3,194.1 168.9,192.6 167.7,191.4 C166.5,190.2 164.4,190.0 163.0,189.0 C161.6,188.0 160.2,186.9 159.4,185.5 C158.6,184.1 158.3,182.6 158.2,180.8 C158.1,179.1 158.2,177.0 158.8,175.0 C159.4,173.0 160.9,170.8 162.0,169.0 C163.1,167.2 164.8,165.3 165.5,164.0 C166.2,162.7 166.3,161.7 166.5,161.0 C166.7,160.3 156.1,160.2 166.5,160.0Z"/>
<path fill="#f2f4cb" d="M184.5,160.0 C182.1,160.5 184.6,161.6 184.8,163.1 C185.0,164.6 185.5,167.2 185.7,168.9 C185.9,170.6 185.4,172.2 185.9,173.4 C186.4,174.6 187.2,175.6 188.4,176.1 C189.6,176.6 191.4,176.8 192.9,176.6 C194.4,176.4 196.3,175.9 197.3,175.2 C198.3,174.5 198.9,173.8 199.1,172.5 C199.3,171.2 198.7,168.7 198.7,167.1 C198.7,165.5 199.0,164.3 199.1,163.1 C199.2,161.9 201.9,160.5 199.5,160.0 C197.1,159.5 186.9,159.5 184.5,160.0Z"/>
<path fill="#f2f4cb" d="M20.0,160.0 C22.7,157.3 33.4,159.3 36.0,160.0 C38.6,160.7 36.1,162.4 35.7,164.2 C35.3,166.0 34.6,169.0 33.5,171.0 C32.4,173.0 30.5,175.3 29.0,176.2 C27.5,177.1 26.0,176.5 24.5,176.5 C23.0,176.5 20.8,178.8 20.0,176.0 C19.2,173.2 17.3,162.7 20.0,160.0Z"/>
<path fill="#f2f4cb" d="M27.5,190.5 C27.8,189.1 30.2,187.1 32.0,186.0 C33.8,184.9 36.2,183.4 38.0,183.7 C39.8,183.9 41.9,185.8 42.5,187.5 C43.1,189.2 42.7,192.7 41.7,194.2 C40.7,195.7 38.4,196.5 36.5,196.5 C34.6,196.5 32.0,195.2 30.5,194.2 C29.0,193.2 27.2,191.9 27.5,190.5Z"/>
<path fill="#f27c66" d="M20.0,200.0 C21.0,192.3 24.0,200.7 26.0,201.0 C28.0,201.3 30.3,201.4 32.0,202.0 C33.7,202.6 33.8,203.9 36.0,204.5 C38.2,205.1 42.2,205.7 45.5,205.5 C48.8,205.3 52.2,204.5 56.0,203.5 C59.8,202.5 64.2,200.9 68.0,199.5 C71.8,198.1 76.5,196.8 78.5,195.0 C80.5,193.2 79.2,190.6 80.0,189.0 C80.8,187.4 81.5,186.0 83.0,185.2 C84.5,184.4 86.8,183.9 89.0,184.2 C91.2,184.4 94.6,185.4 96.5,186.7 C98.4,188.0 100.0,190.3 100.5,192.0 C101.0,193.7 100.0,195.0 99.6,197.0 C99.2,199.0 98.1,201.5 98.0,204.0 C97.9,206.5 98.6,209.7 99.0,212.0 C99.4,214.3 99.6,215.7 100.5,218.0 C101.4,220.3 102.9,223.5 104.5,226.0 C106.1,228.5 108.6,230.8 110.0,233.0 C111.4,235.2 112.2,236.7 113.0,239.0 C113.8,241.3 130.0,245.7 114.5,247.0 C99.0,248.3 35.8,254.8 20.0,247.0 C4.2,239.2 19.0,207.7 20.0,200.0Z"/>
<path fill="#ef5252" d="M20.0,212.0 C23.4,206.0 33.8,211.6 40.2,211.0 C46.6,210.4 53.2,209.2 58.4,208.5 C63.6,207.8 67.5,206.5 71.2,206.5 C74.9,206.5 77.8,207.1 80.3,208.3 C82.8,209.6 85.0,211.1 86.5,214.0 C88.0,216.9 88.1,222.2 89.0,226.0 C89.9,229.8 90.9,233.9 92.0,236.9 C93.1,239.9 94.8,242.5 95.5,244.2 C96.2,245.9 109.1,246.5 96.5,247.0 C83.9,247.5 32.8,252.8 20.0,247.0 C7.2,241.2 16.6,218.0 20.0,212.0Z"/>
<path fill="#ee2222" d="M20.0,221.0 C23.3,216.6 35.0,220.7 40.0,220.5 C45.0,220.3 46.3,220.7 50.0,220.0 C53.7,219.3 58.3,217.4 62.0,216.5 C65.7,215.6 69.1,214.3 72.0,214.5 C74.9,214.7 77.7,215.8 79.5,217.5 C81.3,219.2 82.2,221.9 83.0,225.0 C83.8,228.1 84.2,232.3 84.5,236.0 C84.8,239.7 95.8,245.2 85.0,247.0 C74.2,248.8 30.8,251.3 20.0,247.0 C9.2,242.7 16.7,225.4 20.0,221.0Z"/>
<path fill="#f00a0a" d="M20.0,227.5 C23.3,223.9 33.7,226.0 40.0,225.5 C46.3,225.0 53.3,224.6 58.0,224.4 C62.7,224.2 65.3,223.8 68.0,224.4 C70.7,225.0 72.6,226.2 74.0,228.0 C75.4,229.8 76.0,231.8 76.5,235.0 C77.0,238.2 86.4,245.0 77.0,247.0 C67.6,249.0 29.5,250.2 20.0,247.0 C10.5,243.8 16.7,231.1 20.0,227.5Z"/>
<path fill="#f27c66" d="M165.3,180.8 C165.9,179.6 168.1,178.2 170.0,177.3 C171.9,176.4 175.4,175.3 177.0,175.5 C178.6,175.7 179.6,177.0 179.4,178.5 C179.2,180.0 177.4,183.2 176.0,184.4 C174.6,185.6 172.8,185.5 171.2,185.5 C169.6,185.5 167.5,185.2 166.5,184.4 C165.5,183.6 164.7,182.0 165.3,180.8Z"/>
<path fill="#f27c66" d="M165.5,247.0 C147.1,245.2 165.4,239.8 165.4,236.0 C165.4,232.2 164.5,229.4 165.4,224.3 C166.3,219.2 169.1,210.3 170.9,205.3 C172.7,200.3 173.6,197.6 176.3,194.4 C179.0,191.2 183.0,188.7 187.1,186.3 C191.2,183.9 196.7,181.8 200.7,180.2 C204.7,178.6 207.4,177.9 211.0,177.0 C214.6,176.1 218.2,175.3 222.0,175.0 C225.8,174.7 229.9,174.0 234.0,175.0 C238.1,176.0 242.4,178.2 246.8,181.0 C251.2,183.8 255.9,187.6 260.4,191.7 C264.9,195.8 270.4,199.9 274.0,205.3 C277.6,210.7 281.2,219.3 282.1,224.3 C283.0,229.3 280.4,231.3 279.4,235.1 C278.4,238.9 295.0,245.0 276.0,247.0 C257.0,249.0 183.9,248.8 165.5,247.0Z"/>
<path fill="#f27c66" d="M312.0,247.0 C309.2,246.7 312.7,246.3 314.0,245.0 C315.3,243.7 317.7,240.2 320.0,239.0 C322.3,237.8 326.2,237.8 328.0,237.5 C329.8,237.2 330.5,235.4 331.0,237.0 C331.5,238.6 334.2,245.3 331.0,247.0 C327.8,248.7 314.8,247.3 312.0,247.0Z"/>
<path fill="#ef5252" d="M179.0,247.0 C164.1,243.2 176.1,231.2 176.3,224.3 C176.5,217.4 178.5,210.6 180.4,205.3 C182.3,200.0 184.2,195.6 188.0,192.5 C191.8,189.4 197.7,188.6 203.0,187.0 C208.3,185.4 214.5,183.9 220.0,183.2 C225.5,182.4 230.2,180.5 236.0,182.5 C241.8,184.5 250.0,189.8 255.0,195.0 C260.0,200.2 263.6,207.6 265.8,213.4 C268.1,219.2 268.5,224.1 268.5,229.7 C268.5,235.3 280.9,244.1 266.0,247.0 C251.1,249.9 193.9,250.8 179.0,247.0Z"/>
<path fill="#ee2222" d="M188.5,224.3 C187.2,219.6 188.8,212.5 189.9,208.0 C191.0,203.5 192.2,199.8 195.3,197.1 C198.5,194.4 203.4,192.6 208.8,191.7 C214.2,190.8 221.9,190.8 227.8,191.7 C233.7,192.6 239.6,193.9 244.1,197.1 C248.6,200.3 252.7,206.2 255.0,210.7 C257.3,215.2 258.1,220.2 257.7,224.3 C257.2,228.4 255.5,232.4 252.3,235.1 C249.1,237.8 245.0,239.7 238.7,240.6 C232.4,241.5 221.1,241.3 214.3,240.6 C207.5,239.9 202.3,239.2 198.0,236.5 C193.7,233.8 189.8,229.1 188.5,224.3Z"/>
<path fill="#f00a0a" d="M192.6,216.1 C192.6,212.0 193.5,208.4 195.3,205.3 C197.1,202.2 199.3,199.1 203.4,197.5 C207.5,195.9 213.8,195.6 219.7,195.8 C225.6,196.0 233.7,196.0 238.7,198.5 C243.7,201.0 247.3,206.4 249.6,210.7 C251.9,215.0 253.2,220.7 252.3,224.3 C251.4,227.9 248.2,230.4 244.1,232.4 C240.0,234.4 233.7,236.1 227.8,236.5 C221.9,236.9 214.2,236.2 208.8,235.1 C203.4,234.0 198.0,232.9 195.3,229.7 C192.6,226.5 192.6,220.2 192.6,216.1Z"/>
<path fill="#c6efef" d="M140.0,174.0 C140.8,172.8 142.9,171.1 144.5,171.0 C146.1,170.9 148.2,171.4 149.7,173.2 C151.2,174.9 153.4,179.4 153.5,181.5 C153.6,183.6 152.0,185.5 150.5,186.0 C149.0,186.5 146.2,185.8 144.5,184.5 C142.8,183.2 140.8,180.2 140.0,178.5 C139.2,176.8 139.2,175.2 140.0,174.0Z"/>
<path fill="#c6efef" d="M119.5,212.0 C120.0,210.6 122.4,208.7 124.6,207.8 C126.8,206.9 129.9,206.5 132.5,206.6 C135.1,206.7 138.2,207.5 140.0,208.5 C141.8,209.5 143.0,211.2 143.5,212.5 C144.0,213.8 144.2,215.1 143.0,216.0 C141.8,216.9 138.7,217.9 136.0,218.2 C133.3,218.5 129.4,218.2 127.0,217.8 C124.6,217.4 122.8,217.0 121.5,216.0 C120.2,215.0 119.0,213.4 119.5,212.0Z"/>
<path fill="#c6efef" d="M300.5,217.0 C300.8,216.0 302.6,214.6 304.0,214.0 C305.4,213.4 307.3,213.1 309.0,213.3 C310.7,213.5 313.2,214.0 314.0,215.0 C314.8,216.0 314.5,218.5 313.5,219.5 C312.5,220.5 309.8,220.9 308.0,221.0 C306.2,221.1 303.8,220.7 302.5,220.0 C301.2,219.3 300.2,218.0 300.5,217.0Z"/>
<path fill="#c6efef" d="M232.0,160.0 C215.7,160.6 231.8,162.6 233.0,163.5 C234.2,164.4 237.0,164.2 239.0,165.5 C241.0,166.8 242.0,169.1 245.0,171.0 C248.0,172.9 252.5,175.0 257.0,177.0 C261.5,179.0 267.5,181.4 272.0,183.0 C276.5,184.6 280.8,185.0 284.0,186.5 C287.2,188.0 289.0,190.1 291.5,192.0 C294.0,193.9 296.5,196.1 299.0,198.0 C301.5,199.9 304.5,202.5 306.5,203.5 C308.5,204.5 309.2,203.6 311.0,204.0 C312.8,204.4 315.2,205.4 317.0,206.0 C318.8,206.6 319.7,207.2 322.0,207.5 C324.3,207.8 329.5,215.4 331.0,207.5 C332.5,199.6 347.5,167.9 331.0,160.0 C314.5,152.1 248.3,159.4 232.0,160.0Z"/>
<path fill="#76a0f0" d="M255.0,160.0 C242.7,160.6 255.4,162.2 257.0,163.5 C258.6,164.8 262.0,167.3 264.5,168.0 C267.0,168.7 268.8,167.8 272.0,167.5 C275.2,167.2 281.0,166.4 284.0,166.5 C287.0,166.6 287.8,167.3 290.0,168.0 C292.2,168.7 294.7,169.4 297.1,170.7 C299.5,172.0 302.2,173.9 304.3,176.0 C306.4,178.1 307.8,181.1 309.6,183.2 C311.4,185.3 313.2,186.8 315.0,188.6 C316.8,190.4 318.6,192.2 320.4,194.0 C322.2,195.8 324.5,197.8 325.7,199.3 C326.9,200.8 326.6,201.9 327.5,203.0 C328.4,204.1 330.4,213.2 331.0,206.0 C331.6,198.8 343.7,167.7 331.0,160.0 C318.3,152.3 267.3,159.4 255.0,160.0Z"/>
<path fill="#c6efef" d="M320.5,168.0 C320.7,165.5 321.0,165.6 322.0,165.0 C323.0,164.4 325.7,162.8 326.5,164.5 C327.3,166.2 327.0,170.8 327.0,175.0 C327.0,179.2 327.2,187.2 326.5,189.5 C325.8,191.8 323.4,190.6 322.5,189.0 C321.6,187.4 321.3,183.5 321.0,180.0 C320.7,176.5 320.3,170.5 320.5,168.0Z"/>
<g fill="none" stroke="#0d0d0d" stroke-width="1.55" stroke-linejoin="round" stroke-linecap="round">
<path d="M57.1,161.9 C56.9,162.6 56.8,164.9 56.0,166.0 C55.2,167.1 53.5,167.6 52.3,168.2 C51.0,168.8 49.6,169.0 48.5,169.7 C47.4,170.5 46.4,171.8 45.5,172.7 C44.6,173.6 43.7,174.0 43.3,175.0 C42.9,176.0 43.5,177.5 43.0,178.7 C42.5,180.0 41.1,181.2 40.3,182.5 C39.5,183.8 38.9,185.0 38.0,186.2 C37.1,187.5 36.0,189.0 35.0,190.0 C34.0,191.0 33.1,192.0 32.0,192.2 C30.9,192.5 29.3,191.7 28.3,191.5 C27.3,191.3 26.2,190.8 26.0,191.2 C25.8,191.6 26.4,193.0 26.8,193.7 C27.2,194.4 28.3,194.4 28.3,195.2 C28.3,195.9 27.4,197.3 26.8,198.2 C26.2,199.1 25.3,199.8 24.5,200.5 C23.7,201.2 22.5,202.1 22.1,202.4"/>
<path d="M147.3,161.9 C147.5,162.5 147.9,164.5 148.3,165.6 C148.7,166.7 149.2,167.4 149.6,168.8 C149.9,170.1 149.9,172.2 150.2,173.8 C150.5,175.3 150.9,176.7 151.4,178.1 C151.9,179.5 152.7,180.5 153.3,181.9 C153.9,183.3 154.8,184.9 155.2,186.2 C155.6,187.6 155.3,188.9 155.8,190.0 C156.3,191.1 157.3,192.4 158.3,192.8 C159.3,193.1 160.6,192.2 162.0,191.9 C163.5,191.7 165.5,191.6 167.0,191.2 C168.6,190.9 170.2,190.7 171.4,190.0 C172.7,189.3 173.5,188.1 174.5,186.9 C175.6,185.8 176.8,184.5 177.7,183.1 C178.6,181.7 179.7,180.1 180.2,178.8 C180.7,177.4 180.4,176.0 180.8,175.0 C181.2,174.0 182.1,173.2 182.7,172.5 C183.3,171.8 184.1,171.4 184.5,170.6 C185.0,169.8 185.2,168.4 185.2,167.5 C185.2,166.6 184.8,165.9 184.5,165.0 C184.3,164.1 184.0,162.4 183.9,161.9"/>
<path d="M199.4,161.9 C199.4,162.1 199.6,162.7 199.4,163.3 C199.2,164.0 198.5,164.8 198.3,165.8 C198.1,166.8 198.2,168.4 198.3,169.5 C198.4,170.6 198.5,171.6 199.0,172.4 C199.5,173.2 200.3,174.0 201.2,174.2 C202.0,174.4 203.3,174.1 204.1,173.5 C204.9,172.9 205.6,171.9 206.0,170.9 C206.4,169.9 206.5,168.5 206.7,167.3 C206.9,166.2 207.3,164.9 207.4,164.0 C207.5,163.1 207.2,162.2 207.1,161.9"/>
<path d="M329.6,163.8 C328.7,163.9 325.7,164.1 324.2,164.4 C322.7,164.7 321.5,165.1 320.4,165.6 C319.4,166.1 318.4,166.6 317.9,167.5 C317.4,168.4 317.4,169.9 317.3,171.2 C317.2,172.6 317.1,174.1 317.3,175.6 C317.5,177.1 318.0,178.4 318.6,180.0 C319.1,181.6 320.1,183.3 320.4,185.0 C320.7,186.7 320.2,188.8 320.4,190.0 C320.6,191.2 321.0,191.4 321.7,191.9 C322.4,192.4 323.5,192.6 324.8,192.8 C326.1,192.9 328.8,193.0 329.6,193.1"/>
</g>
<g fill="#111">
<circle cx="218.4" cy="165.1" r="0.8"/>
<circle cx="222.0" cy="163.6" r="0.8"/>
<path d="M241.3,222.1 C241.3,221.6 241.9,221.3 242.2,221.3 C242.5,221.3 242.7,222.2 243.1,222.3 C243.5,222.4 244.4,222.0 244.8,222.1 C245.2,222.2 245.7,222.8 245.6,223.1 C245.5,223.5 245.0,224.0 244.4,224.2 C243.8,224.4 242.6,224.5 242.1,224.1 C241.6,223.8 241.3,222.6 241.3,222.1Z"/>
<path d="M61.1,232.2 C61.2,232.0 61.6,231.8 62.1,231.9 C62.6,232.1 63.5,232.7 64.1,233.1 C64.6,233.5 65.3,234.1 65.4,234.4 C65.5,234.7 65.0,235.1 64.6,235.0 C64.2,234.9 63.5,234.4 62.9,234.1 C62.3,233.8 61.5,233.5 61.2,233.2 C60.9,232.9 61.0,232.4 61.1,232.2Z"/>
<path d="M22.6,226.1 C23.0,225.6 24.3,226.1 25.1,226.3 C25.9,226.5 27.0,226.9 27.4,227.2 C27.9,227.5 28.1,227.8 27.8,228.1 C27.5,228.4 26.5,228.9 25.6,229.1 C24.7,229.3 23.1,229.9 22.6,229.4 C22.1,228.9 22.2,226.6 22.6,226.1Z"/>
</g>
<rect x="195.3" y="205.3" width="33.0" height="21.4" fill="none" stroke="#000" stroke-width="2.2"/>
</g>
<rect x="23.6" y="162.9" width="304.8" height="81.6" fill="none" stroke="#1e1e1e" stroke-width="1.4"/>
<path d="M20.6,162.9H23.6M20.6,183.3H23.6M20.6,203.7H23.6M20.6,224.1H23.6M20.6,244.5H23.6M23.6,244.5V247.5M74.4,244.5V247.5M125.2,244.5V247.5M176.0,244.5V247.5M226.8,244.5V247.5M277.6,244.5V247.5M328.4,244.5V247.5" stroke="#222" stroke-width="1" fill="none"/>
<text x="3.0" y="166.5" class="b" font-size="10" font-weight="bold" textLength="15.2" lengthAdjust="spacingAndGlyphs">20S</text>
<text x="3.0" y="186.9" class="b" font-size="10" font-weight="bold" textLength="15.2" lengthAdjust="spacingAndGlyphs">30S</text>
<text x="3.0" y="207.3" class="b" font-size="10" font-weight="bold" textLength="15.2" lengthAdjust="spacingAndGlyphs">40S</text>
<text x="3.0" y="227.7" class="b" font-size="10" font-weight="bold" textLength="15.2" lengthAdjust="spacingAndGlyphs">50S</text>
<text x="3.0" y="248.1" class="b" font-size="10" font-weight="bold" textLength="15.2" lengthAdjust="spacingAndGlyphs">60S</text>
<text x="15.6" y="255.9" class="b" font-size="10.4" font-weight="bold" textLength="16" lengthAdjust="spacingAndGlyphs">60W</text>
<text x="66.4" y="255.9" class="b" font-size="10.4" font-weight="bold" textLength="16" lengthAdjust="spacingAndGlyphs">30W</text>
<text x="122.8" y="255.9" class="b" font-size="10.4" font-weight="bold" textLength="4.8" lengthAdjust="spacingAndGlyphs">0</text>
<text x="168.3" y="255.9" class="b" font-size="10.4" font-weight="bold" textLength="15.3" lengthAdjust="spacingAndGlyphs">30E</text>
<text x="219.2" y="255.9" class="b" font-size="10.4" font-weight="bold" textLength="15.2" lengthAdjust="spacingAndGlyphs">60E</text>
<text x="270.0" y="255.9" class="b" font-size="10.4" font-weight="bold" textLength="15.2" lengthAdjust="spacingAndGlyphs">90E</text>
<text x="318.9" y="255.9" class="b" font-size="10.4" font-weight="bold" textLength="19" lengthAdjust="spacingAndGlyphs">120E</text>
<g clip-path="url(#cpd)">
<rect x="368.9" y="162.9" width="304.4" height="81.6" fill="#c6efef"/>
<path fill="#f2f4cb" d="M366.0,160.0 C368.8,153.8 380.2,159.4 383.0,160.0 C385.8,160.6 383.1,161.7 383.0,163.5 C382.9,165.3 382.1,168.0 382.3,171.0 C382.6,174.0 383.9,179.0 384.5,181.5 C385.1,184.0 386.6,184.6 386.0,186.0 C385.4,187.4 382.5,189.0 381.0,190.0 C379.5,191.0 378.7,190.9 377.0,192.0 C375.3,193.1 372.8,195.7 371.0,196.5 C369.2,197.3 366.8,203.1 366.0,197.0 C365.2,190.9 363.2,166.2 366.0,160.0Z"/>
<path fill="#f2f4cb" d="M502.0,160.0 C499.9,160.6 502.0,161.2 502.2,163.4 C502.4,165.6 502.5,170.0 503.0,172.9 C503.5,175.8 504.2,178.5 505.0,181.0 C505.8,183.5 507.2,185.8 507.6,187.8 C508.0,189.8 507.5,191.3 507.6,193.2 C507.7,195.1 508.3,197.2 508.0,199.0 C507.7,200.8 506.6,202.8 506.0,204.0 C505.4,205.2 506.0,204.4 504.5,206.0 C503.0,207.6 500.2,211.7 497.0,213.5 C493.8,215.3 489.5,216.2 485.0,216.8 C480.5,217.4 474.5,217.1 470.0,216.8 C465.5,216.6 462.5,215.7 458.0,215.3 C453.5,214.9 447.5,214.3 443.0,214.2 C438.5,214.1 434.0,213.9 431.0,214.5 C428.0,215.1 428.0,216.6 425.0,217.5 C422.0,218.4 417.7,219.2 413.0,219.8 C408.3,220.4 402.0,220.2 396.7,221.0 C391.4,221.8 384.4,222.8 381.0,224.5 C377.6,226.2 377.3,227.2 376.5,231.0 C375.7,234.8 332.2,244.3 376.0,247.0 C419.8,249.7 594.3,247.8 639.0,247.0 C683.7,246.2 641.5,243.8 644.0,242.0 C646.5,240.2 650.7,238.0 654.0,236.0 C657.3,234.0 661.3,231.7 664.0,230.0 C666.7,228.3 668.9,228.5 670.0,226.0 C671.1,223.5 670.6,218.3 670.5,215.0 C670.4,211.7 670.6,208.7 669.5,206.0 C668.4,203.3 666.2,200.6 664.0,199.0 C661.8,197.4 658.8,197.2 656.0,196.5 C653.2,195.8 651.0,195.9 647.0,195.0 C643.0,194.1 637.0,192.3 632.0,191.2 C627.0,190.1 622.0,188.9 617.0,188.2 C612.0,187.4 607.0,186.4 602.0,186.7 C597.0,186.9 592.0,188.6 587.0,189.7 C582.0,190.8 576.5,192.4 572.0,193.0 C567.5,193.6 564.6,193.2 560.0,193.2 C555.4,193.2 549.2,193.5 544.3,193.2 C539.4,192.9 533.9,192.1 530.7,191.2 C527.5,190.3 526.9,189.3 525.3,187.8 C523.7,186.3 522.7,184.2 521.2,182.4 C519.7,180.6 517.8,179.1 516.5,177.0 C515.2,174.9 514.1,172.4 513.7,170.1 C513.4,167.8 514.3,165.1 514.4,163.4 C514.5,161.7 516.6,160.6 514.5,160.0 C512.4,159.4 504.1,159.4 502.0,160.0Z"/>
<path fill="#f2f4cb" d="M518.0,160.0 C519.2,159.2 524.8,159.3 526.0,160.0 C527.2,160.7 526.0,163.0 525.3,164.0 C524.6,165.0 523.0,165.8 522.0,166.0 C521.0,166.2 519.7,166.0 519.0,165.0 C518.3,164.0 516.8,160.8 518.0,160.0Z"/>
<path fill="#f0a17b" d="M506.7,230.7 C506.7,229.4 507.6,227.4 509.0,226.0 C510.4,224.6 511.5,224.1 515.0,222.5 C518.5,220.9 525.0,218.2 530.0,216.5 C535.0,214.8 540.7,213.2 545.0,212.0 C549.3,210.8 552.7,209.9 556.0,209.0 C559.3,208.1 561.8,207.2 565.0,206.5 C568.2,205.8 571.3,205.2 575.0,204.5 C578.7,203.8 583.0,203.0 587.0,202.5 C591.0,202.0 595.2,201.8 599.0,201.7 C602.8,201.6 606.2,201.4 609.5,201.9 C612.8,202.4 615.8,203.3 619.0,204.5 C622.2,205.7 626.1,207.5 629.0,209.0 C631.9,210.5 635.0,212.0 636.5,213.5 C638.0,215.0 638.8,216.0 638.0,218.0 C637.2,220.0 635.5,223.0 632.0,225.5 C628.5,228.0 622.0,231.2 617.0,233.0 C612.0,234.8 607.0,235.4 602.0,236.0 C597.0,236.6 592.0,236.4 587.0,236.7 C582.0,236.9 576.5,237.1 572.0,237.5 C567.5,237.9 564.5,238.6 560.0,239.0 C555.5,239.4 550.0,239.7 545.0,239.7 C540.0,239.7 535.0,239.6 530.0,239.0 C525.0,238.4 518.5,236.9 515.0,236.0 C511.5,235.1 510.4,234.4 509.0,233.5 C507.6,232.6 506.7,231.9 506.7,230.7Z"/>
<path fill="#f27c66" d="M566.0,220.0 C566.9,218.7 569.8,218.5 572.0,218.0 C574.2,217.5 575.8,217.1 579.5,217.2 C583.2,217.3 590.5,217.8 594.5,218.7 C598.5,219.6 603.0,221.2 603.5,222.5 C604.0,223.8 600.8,225.3 597.5,226.2 C594.2,227.1 588.2,227.5 584.0,227.7 C579.8,227.9 574.9,227.8 572.0,227.5 C569.1,227.2 567.5,227.2 566.5,226.0 C565.5,224.8 565.1,221.3 566.0,220.0Z"/>
<path fill="#76a0f0" d="M645.0,247.0 C640.2,246.7 645.2,246.3 647.0,245.0 C648.8,243.7 653.0,240.5 656.0,239.0 C659.0,237.5 661.7,236.8 665.0,236.0 C668.3,235.2 674.2,232.7 676.0,234.5 C677.8,236.3 681.2,244.9 676.0,247.0 C670.8,249.1 649.8,247.3 645.0,247.0Z"/>
<g fill="none" stroke="#0d0d0d" stroke-width="1.55" stroke-linejoin="round" stroke-linecap="round">
<path d="M402.4,161.9 C402.2,162.6 402.1,164.9 401.3,166.0 C400.5,167.1 398.8,167.6 397.6,168.2 C396.3,168.8 394.9,169.0 393.8,169.7 C392.7,170.5 391.7,171.8 390.8,172.7 C389.9,173.6 389.0,174.0 388.6,175.0 C388.2,176.0 388.8,177.5 388.3,178.7 C387.8,180.0 386.4,181.2 385.6,182.5 C384.8,183.8 384.2,185.0 383.3,186.2 C382.4,187.5 381.3,189.0 380.3,190.0 C379.3,191.0 378.4,192.0 377.3,192.2 C376.2,192.5 374.6,191.7 373.6,191.5 C372.6,191.3 371.5,190.8 371.3,191.2 C371.0,191.6 371.7,193.0 372.1,193.7 C372.5,194.4 373.6,194.4 373.6,195.2 C373.6,195.9 372.7,197.3 372.1,198.2 C371.5,199.1 370.6,199.8 369.8,200.5 C369.0,201.2 367.8,202.1 367.4,202.4"/>
<path d="M492.6,161.9 C492.8,162.5 493.2,164.5 493.6,165.6 C494.0,166.7 494.5,167.4 494.8,168.8 C495.2,170.1 495.2,172.2 495.5,173.8 C495.8,175.3 496.2,176.7 496.7,178.1 C497.2,179.5 498.0,180.5 498.6,181.9 C499.2,183.3 500.1,184.9 500.5,186.2 C500.9,187.6 500.6,188.9 501.1,190.0 C501.6,191.1 502.6,192.4 503.6,192.8 C504.6,193.1 505.9,192.2 507.3,191.9 C508.8,191.7 510.8,191.6 512.3,191.2 C513.9,190.9 515.5,190.7 516.7,190.0 C518.0,189.3 518.8,188.1 519.8,186.9 C520.9,185.8 522.1,184.5 523.0,183.1 C523.9,181.7 525.0,180.1 525.5,178.8 C526.0,177.4 525.7,176.0 526.1,175.0 C526.5,174.0 527.4,173.2 528.0,172.5 C528.6,171.8 529.4,171.4 529.8,170.6 C530.3,169.8 530.5,168.4 530.5,167.5 C530.5,166.6 530.1,165.9 529.8,165.0 C529.6,164.1 529.3,162.4 529.2,161.9"/>
<path d="M544.7,161.9 C544.7,162.1 544.9,162.7 544.7,163.3 C544.5,164.0 543.8,164.8 543.6,165.8 C543.4,166.8 543.5,168.4 543.6,169.5 C543.7,170.6 543.8,171.6 544.3,172.4 C544.8,173.2 545.6,174.0 546.5,174.2 C547.4,174.4 548.6,174.1 549.4,173.5 C550.2,172.9 550.9,171.9 551.3,170.9 C551.7,169.9 551.8,168.5 552.0,167.3 C552.2,166.2 552.6,164.9 552.7,164.0 C552.8,163.1 552.5,162.2 552.4,161.9"/>
<path d="M674.9,163.8 C674.0,163.9 671.0,164.1 669.5,164.4 C668.0,164.7 666.8,165.1 665.7,165.6 C664.7,166.1 663.7,166.6 663.2,167.5 C662.7,168.4 662.7,169.9 662.6,171.2 C662.5,172.6 662.4,174.1 662.6,175.6 C662.8,177.1 663.3,178.4 663.8,180.0 C664.4,181.6 665.4,183.3 665.7,185.0 C666.0,186.7 665.5,188.8 665.7,190.0 C665.9,191.2 666.3,191.4 667.0,191.9 C667.7,192.4 668.8,192.6 670.1,192.8 C671.4,192.9 674.1,193.0 674.9,193.1"/>
</g>
<g fill="#111">
<circle cx="563.7" cy="165.1" r="0.8"/>
<circle cx="567.3" cy="163.6" r="0.8"/>
<path d="M586.6,222.1 C586.6,221.6 587.2,221.3 587.5,221.3 C587.8,221.3 588.0,222.2 588.4,222.3 C588.8,222.4 589.7,222.0 590.1,222.1 C590.5,222.2 591.0,222.8 590.9,223.1 C590.8,223.5 590.3,224.0 589.7,224.2 C589.1,224.4 587.9,224.5 587.4,224.1 C586.9,223.8 586.6,222.6 586.6,222.1Z"/>
<path d="M406.4,232.2 C406.5,232.0 406.9,231.8 407.4,231.9 C407.9,232.1 408.8,232.7 409.4,233.1 C409.9,233.5 410.6,234.1 410.7,234.4 C410.8,234.7 410.3,235.1 409.9,235.0 C409.5,234.9 408.8,234.4 408.2,234.1 C407.6,233.8 406.8,233.5 406.5,233.2 C406.2,232.9 406.2,232.4 406.4,232.2Z"/>
<path d="M367.9,226.1 C368.3,225.6 369.6,226.1 370.4,226.3 C371.2,226.5 372.2,226.9 372.7,227.2 C373.1,227.5 373.4,227.8 373.1,228.1 C372.8,228.4 371.8,228.9 370.9,229.1 C370.0,229.3 368.4,229.9 367.9,229.4 C367.4,228.9 367.5,226.6 367.9,226.1Z"/>
</g>
<rect x="540.8" y="205.3" width="32.9" height="21.4" fill="none" stroke="#000" stroke-width="2.2"/>
</g>
<rect x="368.9" y="162.9" width="304.4" height="81.6" fill="none" stroke="#1e1e1e" stroke-width="1.4"/>
<path d="M365.9,162.9H368.9M365.9,183.3H368.9M365.9,203.7H368.9M365.9,224.1H368.9M365.9,244.5H368.9M368.9,244.5V247.5M419.6,244.5V247.5M470.4,244.5V247.5M521.1,244.5V247.5M571.8,244.5V247.5M622.6,244.5V247.5M673.3,244.5V247.5" stroke="#222" stroke-width="1" fill="none"/>
<text x="348.3" y="166.5" class="b" font-size="10" font-weight="bold" textLength="15.2" lengthAdjust="spacingAndGlyphs">20S</text>
<text x="348.3" y="186.9" class="b" font-size="10" font-weight="bold" textLength="15.2" lengthAdjust="spacingAndGlyphs">30S</text>
<text x="348.3" y="207.3" class="b" font-size="10" font-weight="bold" textLength="15.2" lengthAdjust="spacingAndGlyphs">40S</text>
<text x="348.3" y="227.7" class="b" font-size="10" font-weight="bold" textLength="15.2" lengthAdjust="spacingAndGlyphs">50S</text>
<text x="348.3" y="248.1" class="b" font-size="10" font-weight="bold" textLength="15.2" lengthAdjust="spacingAndGlyphs">60S</text>
<text x="360.9" y="255.9" class="b" font-size="10.4" font-weight="bold" textLength="16" lengthAdjust="spacingAndGlyphs">60W</text>
<text x="411.6" y="255.9" class="b" font-size="10.4" font-weight="bold" textLength="16" lengthAdjust="spacingAndGlyphs">30W</text>
<text x="468.0" y="255.9" class="b" font-size="10.4" font-weight="bold" textLength="4.8" lengthAdjust="spacingAndGlyphs">0</text>
<text x="513.4" y="255.9" class="b" font-size="10.4" font-weight="bold" textLength="15.3" lengthAdjust="spacingAndGlyphs">30E</text>
<text x="564.2" y="255.9" class="b" font-size="10.4" font-weight="bold" textLength="15.2" lengthAdjust="spacingAndGlyphs">60E</text>
<text x="615.0" y="255.9" class="b" font-size="10.4" font-weight="bold" textLength="15.2" lengthAdjust="spacingAndGlyphs">90E</text>
<text x="663.8" y="255.9" class="b" font-size="10.4" font-weight="bold" textLength="19" lengthAdjust="spacingAndGlyphs">120E</text>
<text x="21.0" y="15.1" font-size="13.8" textLength="17.4" lengthAdjust="spacingAndGlyphs">(a)</text>
<text x="100.0" y="13.9" font-size="15.5" textLength="23.0" lengthAdjust="spacingAndGlyphs">SLP</text>
<text x="131.3" y="13.9" font-size="15.5" textLength="22.2" lengthAdjust="spacingAndGlyphs">Obs</text>
<text x="162.2" y="13.9" font-size="15.5" textLength="86.3" lengthAdjust="spacingAndGlyphs">(1994−1998)</text>
<text x="367.2" y="15.1" font-size="13.8" textLength="18.4" lengthAdjust="spacingAndGlyphs">(b)</text>
<text x="421.3" y="13.9" font-size="15.5" textLength="22.7" lengthAdjust="spacingAndGlyphs">SLP</text>
<text x="452.0" y="13.9" font-size="15.5" textLength="15.7" lengthAdjust="spacingAndGlyphs">F2</text>
<text x="476.0" y="13.9" font-size="15.5" textLength="47.1" lengthAdjust="spacingAndGlyphs">12mem</text>
<text x="530.7" y="13.9" font-size="15.5" textLength="85.5" lengthAdjust="spacingAndGlyphs">(1994−1998)</text>
<text x="23.3" y="158.4" font-size="13.8" textLength="17.8" lengthAdjust="spacingAndGlyphs">(c)</text>
<text x="102.1" y="156.1" font-size="15.5" textLength="23.2" lengthAdjust="spacingAndGlyphs">SLP</text>
<text x="132.9" y="156.1" font-size="15.5" textLength="22.7" lengthAdjust="spacingAndGlyphs">Obs</text>
<text x="163.3" y="156.1" font-size="15.5" textLength="87.2" lengthAdjust="spacingAndGlyphs">(1999−2003)</text>
<text x="370.4" y="158.4" font-size="13.8" textLength="18.2" lengthAdjust="spacingAndGlyphs">(d)</text>
<text x="422.0" y="156.1" font-size="15.5" textLength="22.4" lengthAdjust="spacingAndGlyphs">SLP</text>
<text x="451.7" y="156.1" font-size="15.5" textLength="16.0" lengthAdjust="spacingAndGlyphs">F2</text>
<text x="475.4" y="156.1" font-size="15.5" textLength="48.0" lengthAdjust="spacingAndGlyphs">12mem</text>
<text x="530.4" y="156.1" font-size="15.5" textLength="87.2" lengthAdjust="spacingAndGlyphs">(1999−2003)</text>
<path d="M35.8,125.2 L58.9,120.9 V129.6 Z" fill="#1414f0" stroke="#222" stroke-width="0.6"/><rect x="58.90" y="120.9" width="22.96" height="8.7" fill="#3a34e6" stroke="#222" stroke-width="0.6"/><rect x="81.86" y="120.9" width="22.96" height="8.7" fill="#4d5ce6" stroke="#222" stroke-width="0.6"/><rect x="104.82" y="120.9" width="22.96" height="8.7" fill="#5f82ea" stroke="#222" stroke-width="0.6"/><rect x="127.78" y="120.9" width="22.96" height="8.7" fill="#76a0f0" stroke="#222" stroke-width="0.6"/><rect x="150.74" y="120.9" width="22.96" height="8.7" fill="#c6efef" stroke="#222" stroke-width="0.6"/><rect x="173.70" y="120.9" width="22.96" height="8.7" fill="#f2f4cb" stroke="#222" stroke-width="0.6"/><rect x="196.66" y="120.9" width="22.96" height="8.7" fill="#f0a17b" stroke="#222" stroke-width="0.6"/><rect x="219.62" y="120.9" width="22.96" height="8.7" fill="#f27c66" stroke="#222" stroke-width="0.6"/><rect x="242.58" y="120.9" width="22.96" height="8.7" fill="#ef5252" stroke="#222" stroke-width="0.6"/><rect x="265.54" y="120.9" width="22.96" height="8.7" fill="#ee2222" stroke="#222" stroke-width="0.6"/><path d="M288.50,120.9 L312.60,125.2 L288.50,129.6 Z" fill="#f00a0a" stroke="#222" stroke-width="0.6"/><text x="58.90" y="137.6" font-size="8.6" font-weight="bold" text-anchor="middle">−1</text><text x="81.86" y="137.6" font-size="8.6" font-weight="bold" text-anchor="middle">−0.8</text><text x="104.82" y="137.6" font-size="8.6" font-weight="bold" text-anchor="middle">−0.6</text><text x="127.78" y="137.6" font-size="8.6" font-weight="bold" text-anchor="middle">−0.4</text><text x="150.74" y="137.6" font-size="8.6" font-weight="bold" text-anchor="middle">−0.2</text><text x="173.70" y="137.6" font-size="8.6" font-weight="bold" text-anchor="middle">0</text><text x="196.66" y="137.6" font-size="8.6" font-weight="bold" text-anchor="middle">0.2</text><text x="219.62" y="137.6" font-size="8.6" font-weight="bold" text-anchor="middle">0.4</text><text x="242.58" y="137.6" font-size="8.6" font-weight="bold" text-anchor="middle">0.6</text><text x="265.54" y="137.6" font-size="8.6" font-weight="bold" text-anchor="middle">0.8</text><text x="288.50" y="137.6" font-size="8.6" font-weight="bold" text-anchor="middle">1</text>
<path d="M380.7,125.1 L403.5,120.8 V129.5 Z" fill="#1414f0" stroke="#222" stroke-width="0.6"/><rect x="403.50" y="120.8" width="23.00" height="8.7" fill="#3a34e6" stroke="#222" stroke-width="0.6"/><rect x="426.50" y="120.8" width="23.00" height="8.7" fill="#4d5ce6" stroke="#222" stroke-width="0.6"/><rect x="449.50" y="120.8" width="23.00" height="8.7" fill="#5f82ea" stroke="#222" stroke-width="0.6"/><rect x="472.50" y="120.8" width="23.00" height="8.7" fill="#76a0f0" stroke="#222" stroke-width="0.6"/><rect x="495.50" y="120.8" width="23.00" height="8.7" fill="#c6efef" stroke="#222" stroke-width="0.6"/><rect x="518.50" y="120.8" width="23.00" height="8.7" fill="#f2f4cb" stroke="#222" stroke-width="0.6"/><rect x="541.50" y="120.8" width="23.00" height="8.7" fill="#f0a17b" stroke="#222" stroke-width="0.6"/><rect x="564.50" y="120.8" width="23.00" height="8.7" fill="#f27c66" stroke="#222" stroke-width="0.6"/><rect x="587.50" y="120.8" width="23.00" height="8.7" fill="#ef5252" stroke="#222" stroke-width="0.6"/><rect x="610.50" y="120.8" width="23.00" height="8.7" fill="#ee2222" stroke="#222" stroke-width="0.6"/><path d="M633.50,120.8 L657.30,125.1 L633.50,129.5 Z" fill="#f00a0a" stroke="#222" stroke-width="0.6"/><text x="403.50" y="137.6" font-size="8.6" font-weight="bold" text-anchor="middle">−1</text><text x="426.50" y="137.6" font-size="8.6" font-weight="bold" text-anchor="middle">−0.8</text><text x="449.50" y="137.6" font-size="8.6" font-weight="bold" text-anchor="middle">−0.6</text><text x="472.50" y="137.6" font-size="8.6" font-weight="bold" text-anchor="middle">−0.4</text><text x="495.50" y="137.6" font-size="8.6" font-weight="bold" text-anchor="middle">−0.2</text><text x="518.50" y="137.6" font-size="8.6" font-weight="bold" text-anchor="middle">0</text><text x="541.50" y="137.6" font-size="8.6" font-weight="bold" text-anchor="middle">0.2</text><text x="564.50" y="137.6" font-size="8.6" font-weight="bold" text-anchor="middle">0.4</text><text x="587.50" y="137.6" font-size="8.6" font-weight="bold" text-anchor="middle">0.6</text><text x="610.50" y="137.6" font-size="8.6" font-weight="bold" text-anchor="middle">0.8</text><text x="633.50" y="137.6" font-size="8.6" font-weight="bold" text-anchor="middle">1</text>
<path d="M37.5,266.3 L60.5,262.1 V270.5 Z" fill="#1414f0" stroke="#222" stroke-width="0.6"/><rect x="60.50" y="262.1" width="23.05" height="8.4" fill="#3a34e6" stroke="#222" stroke-width="0.6"/><rect x="83.55" y="262.1" width="23.05" height="8.4" fill="#4d5ce6" stroke="#222" stroke-width="0.6"/><rect x="106.60" y="262.1" width="23.05" height="8.4" fill="#5f82ea" stroke="#222" stroke-width="0.6"/><rect x="129.65" y="262.1" width="23.05" height="8.4" fill="#76a0f0" stroke="#222" stroke-width="0.6"/><rect x="152.70" y="262.1" width="23.05" height="8.4" fill="#c6efef" stroke="#222" stroke-width="0.6"/><rect x="175.75" y="262.1" width="23.05" height="8.4" fill="#f2f4cb" stroke="#222" stroke-width="0.6"/><rect x="198.80" y="262.1" width="23.05" height="8.4" fill="#f0a17b" stroke="#222" stroke-width="0.6"/><rect x="221.85" y="262.1" width="23.05" height="8.4" fill="#f27c66" stroke="#222" stroke-width="0.6"/><rect x="244.90" y="262.1" width="23.05" height="8.4" fill="#ef5252" stroke="#222" stroke-width="0.6"/><rect x="267.95" y="262.1" width="23.05" height="8.4" fill="#ee2222" stroke="#222" stroke-width="0.6"/><path d="M291.00,262.1 L315.00,266.3 L291.00,270.5 Z" fill="#f00a0a" stroke="#222" stroke-width="0.6"/><text x="60.50" y="278.6" font-size="8.6" font-weight="bold" text-anchor="middle">−1</text><text x="83.55" y="278.6" font-size="8.6" font-weight="bold" text-anchor="middle">−0.8</text><text x="106.60" y="278.6" font-size="8.6" font-weight="bold" text-anchor="middle">−0.6</text><text x="129.65" y="278.6" font-size="8.6" font-weight="bold" text-anchor="middle">−0.4</text><text x="152.70" y="278.6" font-size="8.6" font-weight="bold" text-anchor="middle">−0.2</text><text x="175.75" y="278.6" font-size="8.6" font-weight="bold" text-anchor="middle">0</text><text x="198.80" y="278.6" font-size="8.6" font-weight="bold" text-anchor="middle">0.2</text><text x="221.85" y="278.6" font-size="8.6" font-weight="bold" text-anchor="middle">0.4</text><text x="244.90" y="278.6" font-size="8.6" font-weight="bold" text-anchor="middle">0.6</text><text x="267.95" y="278.6" font-size="8.6" font-weight="bold" text-anchor="middle">0.8</text><text x="291.00" y="278.6" font-size="8.6" font-weight="bold" text-anchor="middle">1</text>
<path d="M382.6,266.3 L405.4,262.1 V270.5 Z" fill="#1414f0" stroke="#222" stroke-width="0.6"/><rect x="405.40" y="262.1" width="23.05" height="8.4" fill="#3a34e6" stroke="#222" stroke-width="0.6"/><rect x="428.45" y="262.1" width="23.05" height="8.4" fill="#4d5ce6" stroke="#222" stroke-width="0.6"/><rect x="451.50" y="262.1" width="23.05" height="8.4" fill="#5f82ea" stroke="#222" stroke-width="0.6"/><rect x="474.55" y="262.1" width="23.05" height="8.4" fill="#76a0f0" stroke="#222" stroke-width="0.6"/><rect x="497.60" y="262.1" width="23.05" height="8.4" fill="#c6efef" stroke="#222" stroke-width="0.6"/><rect x="520.65" y="262.1" width="23.05" height="8.4" fill="#f2f4cb" stroke="#222" stroke-width="0.6"/><rect x="543.70" y="262.1" width="23.05" height="8.4" fill="#f0a17b" stroke="#222" stroke-width="0.6"/><rect x="566.75" y="262.1" width="23.05" height="8.4" fill="#f27c66" stroke="#222" stroke-width="0.6"/><rect x="589.80" y="262.1" width="23.05" height="8.4" fill="#ef5252" stroke="#222" stroke-width="0.6"/><rect x="612.85" y="262.1" width="23.05" height="8.4" fill="#ee2222" stroke="#222" stroke-width="0.6"/><path d="M635.90,262.1 L659.70,266.3 L635.90,270.5 Z" fill="#f00a0a" stroke="#222" stroke-width="0.6"/><text x="405.40" y="278.6" font-size="8.6" font-weight="bold" text-anchor="middle">−1</text><text x="428.45" y="278.6" font-size="8.6" font-weight="bold" text-anchor="middle">−0.8</text><text x="451.50" y="278.6" font-size="8.6" font-weight="bold" text-anchor="middle">−0.6</text><text x="474.55" y="278.6" font-size="8.6" font-weight="bold" text-anchor="middle">−0.4</text><text x="497.60" y="278.6" font-size="8.6" font-weight="bold" text-anchor="middle">−0.2</text><text x="520.65" y="278.6" font-size="8.6" font-weight="bold" text-anchor="middle">0</text><text x="543.70" y="278.6" font-size="8.6" font-weight="bold" text-anchor="middle">0.2</text><text x="566.75" y="278.6" font-size="8.6" font-weight="bold" text-anchor="middle">0.4</text><text x="589.80" y="278.6" font-size="8.6" font-weight="bold" text-anchor="middle">0.6</text><text x="612.85" y="278.6" font-size="8.6" font-weight="bold" text-anchor="middle">0.8</text><text x="635.90" y="278.6" font-size="8.6" font-weight="bold" text-anchor="middle">1</text>
<text x="309.9" y="138.4" font-size="14.4" textLength="26.2" lengthAdjust="spacingAndGlyphs">hPa</text>
</svg></body></html>
